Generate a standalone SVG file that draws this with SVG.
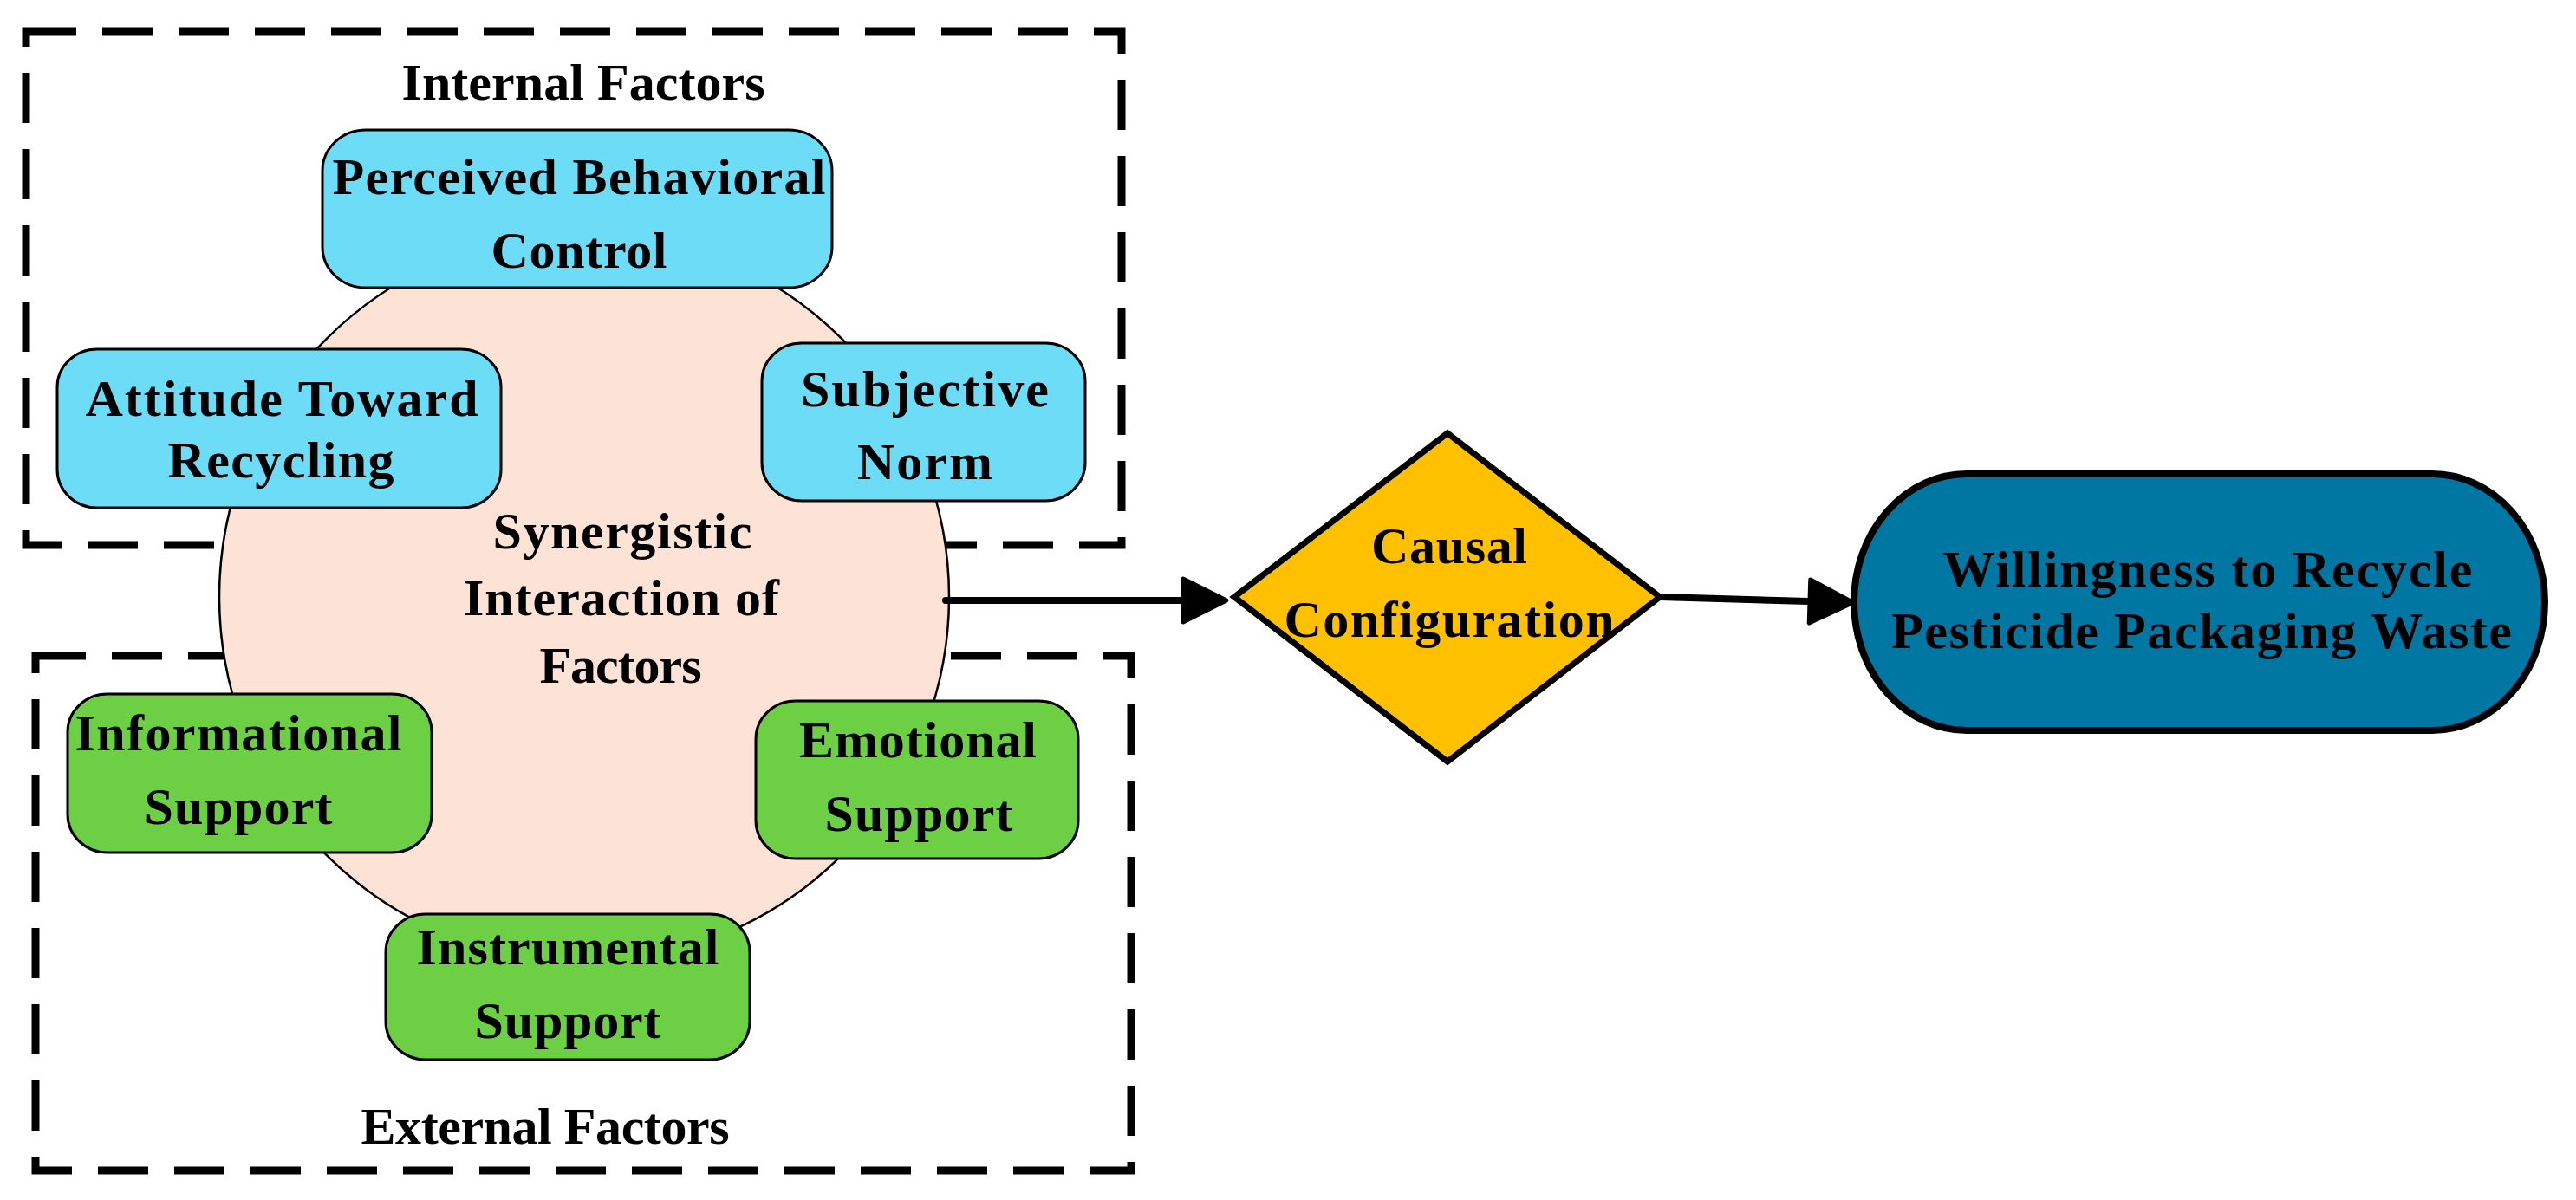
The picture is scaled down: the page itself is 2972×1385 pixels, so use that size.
<svg xmlns="http://www.w3.org/2000/svg" width="2972" height="1385" viewBox="0 0 2972 1385">
<style>
.t{font-family:"Liberation Serif","Times New Roman",serif;font-weight:bold;font-size:60px;fill:#000;text-anchor:middle}
.dash{fill:none;stroke:#000;stroke-width:9;stroke-dasharray:58 30}
.blue{fill:#6DDCF7;stroke:#000;stroke-width:3}
.green{fill:#6CCF44;stroke:#000;stroke-width:3}
.conn{fill:none;stroke:#000;stroke-width:8;stroke-linecap:round}
</style>
<defs>
<marker id="arr" markerUnits="userSpaceOnUse" markerWidth="60" markerHeight="60" refX="1" refY="28" orient="auto" viewBox="0 0 60 60">
<path d="M3,3 L53,28 L3,53 Z" fill="#000" stroke="#000" stroke-width="5" stroke-linejoin="round"/>
</marker>
</defs>
<rect width="2972" height="1385" fill="#fff"/>

<g id="internal-factors">
<rect class="dash" x="30" y="36" width="1264" height="593"/>
<text class="t" x="673" y="115" textLength="419">Internal Factors</text>
</g>
<g id="external-factors">
<rect class="dash" x="41" y="757" width="1264" height="594"/>
<text class="t" x="629" y="1320" textLength="425">External Factors</text>
</g>

<g id="synergistic-interaction">
<circle cx="674" cy="689" r="421" fill="#FDE2D6" stroke="#000" stroke-width="2.5"/>
<text class="t" x="718" y="633" textLength="299">Synergistic</text>
<text class="t" x="717" y="710" textLength="364">Interaction of</text>
<text class="t" x="716" y="788" textLength="187">Factors</text>
</g>

<g id="perceived-behavioral-control">
<rect class="blue" x="372" y="150" width="588" height="182" rx="50" ry="47"/>
<text class="t" x="668" y="224" textLength="569">Perceived Behavioral</text>
<text class="t" x="668" y="309" textLength="203">Control</text>
</g>
<g id="attitude-toward-recycling">
<rect class="blue" x="66" y="403" width="512" height="183" rx="46" ry="44"/>
<text class="t" x="325" y="480" textLength="453">Attitude Toward</text>
<text class="t" x="324" y="551" textLength="261">Recycling</text>
</g>
<g id="subjective-norm">
<rect class="blue" x="879" y="396" width="373" height="182" rx="46" ry="44"/>
<text class="t" x="1067" y="469" textLength="286">Subjective</text>
<text class="t" x="1067" y="553" textLength="156">Norm</text>
</g>
<g id="informational-support">
<rect class="green" x="78" y="801" width="420" height="183" rx="46" ry="44"/>
<text class="t" x="275" y="866" textLength="377">Informational</text>
<text class="t" x="275" y="951" textLength="217">Support</text>
</g>
<g id="emotional-support">
<rect class="green" x="872" y="809" width="372" height="182" rx="46" ry="44"/>
<text class="t" x="1059" y="874" textLength="274">Emotional</text>
<text class="t" x="1060" y="959" textLength="217">Support</text>
</g>
<g id="instrumental-support">
<rect class="green" x="445" y="1055" width="420" height="168" rx="46" ry="44"/>
<text class="t" x="655" y="1113" textLength="349">Instrumental</text>
<text class="t" x="655" y="1198" textLength="215">Support</text>
</g>

<g id="causal-configuration">
<polygon points="1670,500 1915,689 1670,879 1424,689" fill="#FFC000" stroke="#000" stroke-width="7"/>
<text class="t" x="1672" y="650" textLength="180">Causal</text>
<text class="t" x="1672" y="735" textLength="381">Configuration</text>
</g>

<g id="willingness">
<rect x="2139" y="547" width="797" height="296" rx="130" ry="148" fill="#0076A2" stroke="#000" stroke-width="8"/>
<text class="t" x="2547" y="677" textLength="611">Willingness to Recycle</text>
<text class="t" x="2540" y="748" textLength="716">Pesticide Packaging Waste</text>
</g>

<g id="connectors">
<line class="conn" x1="1091" y1="693" x2="1363" y2="693" marker-end="url(#arr)"/>
<line class="conn" x1="1915" y1="689" x2="2086" y2="694" marker-end="url(#arr)"/>
</g>
</svg>
